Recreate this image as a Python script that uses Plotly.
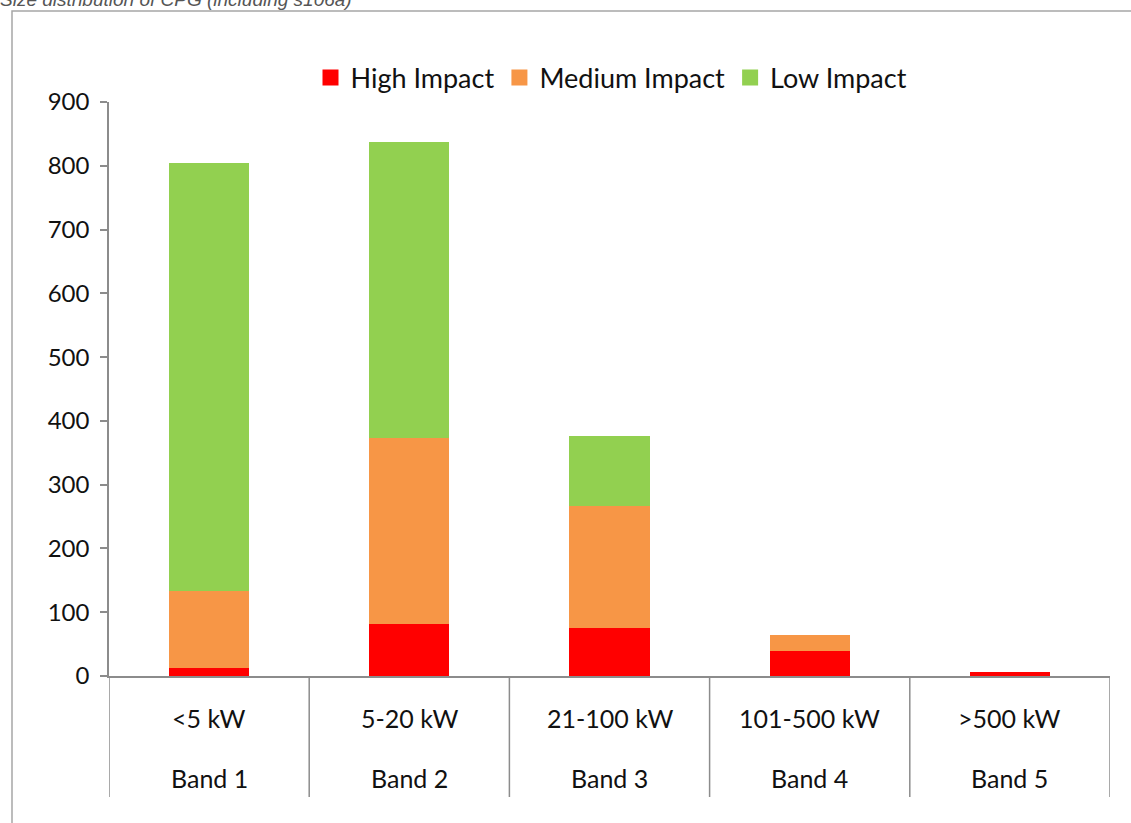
import plotly.graph_objects as go

# Category labels (two-level axis) and stacked series values
size_bands = ["<5 kW", "5-20 kW", "21-100 kW", "101-500 kW", ">500 kW"]
band_names = ["Band 1", "Band 2", "Band 3", "Band 4", "Band 5"]
high_impact = [13, 81, 75, 39, 6]
medium_impact = [120, 292, 191, 25, 0]
low_impact = [671, 464, 110, 0, 0]
y_ticks = [0, 100, 200, 300, 400, 500, 600, 700, 800, 900]

series = [
    ("High Impact", high_impact, "#FF0000"),
    ("Medium Impact", medium_impact, "#F79646"),
    ("Low Impact", low_impact, "#92D050"),
]

positions = list(range(len(size_bands)))
font_main = "Lato, 'Open Sans', sans-serif"
axis_grey = "#8c8c8c"

fig = go.Figure()
for name, vals, color in series:
    fig.add_trace(go.Bar(
        x=positions, y=vals, name=name, legendgroup=name, showlegend=False,
        marker=dict(color=color, line=dict(width=0)),
        width=0.4,
    ))
# legend keys drawn as larger square swatches
for name, vals, color in series:
    fig.add_trace(go.Scatter(
        x=[None], y=[None], mode="markers", name=name, legendgroup=name,
        marker=dict(symbol="square", size=16, color=color),
    ))

W, H = 1131, 823
ml, mr, mt, mb = 109, 21, 102, 147
pw = W - ml - mr
ph = H - mt - mb


def py_to_paper(p):
    return 1 + (mt - p) / ph


def px_to_paper(p):
    return (p - ml) / pw


shapes = []
# outer chart frame
shapes.append(dict(type="rect", xref="paper", yref="paper",
                   x0=px_to_paper(12), x1=px_to_paper(1140),
                   y0=py_to_paper(830), y1=py_to_paper(11),
                   line=dict(color="#a6a6a6", width=1.5), layer="below"))
# category dividers below the baseline
for i in range(len(size_bands) + 1):
    shapes.append(dict(type="line", xref="x", yref="paper",
                       x0=i - 0.5, x1=i - 0.5,
                       y0=py_to_paper(676), y1=py_to_paper(797),
                       line=dict(color=axis_grey, width=1.5)))

annotations = []
for i, (s, b) in enumerate(zip(size_bands, band_names)):
    annotations.append(dict(x=i, y=py_to_paper(718), xref="x", yref="paper",
                            yanchor="middle", text=s, showarrow=False,
                            font=dict(family=font_main, size=25, color="#111")))
    annotations.append(dict(x=i, y=py_to_paper(778), xref="x", yref="paper",
                            yanchor="middle", text=b, showarrow=False,
                            font=dict(family=font_main, size=25, color="#111")))

# chart caption above the frame
annotations.append(dict(x=px_to_paper(-2), y=py_to_paper(0), xref="paper", yref="paper",
                        xanchor="left", yanchor="middle", showarrow=False,
                        text="<i>Size distribution of CPG (including s106a)</i>",
                        font=dict(family="Liberation Sans, Arial, sans-serif", size=19,
                                  color="#555")))

fig.update_layout(
    width=W, height=H,
    margin=dict(l=ml, r=mr, t=mt, b=mb),
    paper_bgcolor="white", plot_bgcolor="white",
    barmode="stack", bargap=0.6,
    shapes=shapes, annotations=annotations,
    showlegend=True,
    legend=dict(orientation="h", x=0.502, xanchor="center",
                y=py_to_paper(78), yanchor="middle",
                font=dict(family=font_main, size=27, color="#111"),
                itemsizing="trace", traceorder="normal", itemwidth=30,
                bgcolor="rgba(0,0,0,0)"),
    xaxis=dict(range=[-0.5, len(size_bands) - 0.5], showticklabels=False,
               showline=True, linecolor=axis_grey, linewidth=1.5,
               ticks="", showgrid=False, zeroline=False, fixedrange=True),
    yaxis=dict(range=[0, 900], tickvals=y_ticks, ticks="outside", ticklen=7,
               tickcolor=axis_grey, tickwidth=1.5,
               showline=True, linecolor=axis_grey, linewidth=1.5,
               showgrid=False, zeroline=False,
               tickfont=dict(family=font_main, size=24, color="#111"),
               ticklabelstandoff=6),
)

fig.write_html("out.html")
